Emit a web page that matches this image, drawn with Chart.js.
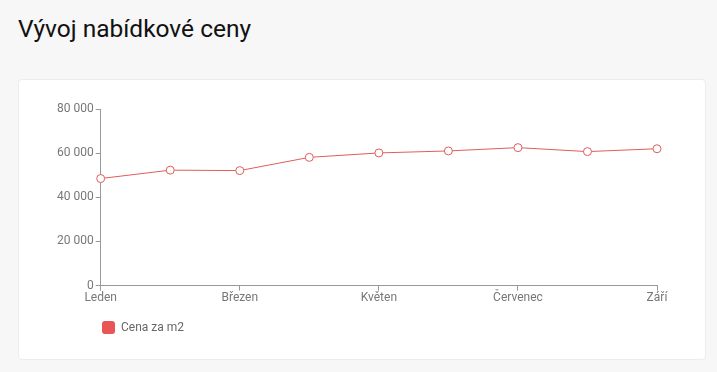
<!DOCTYPE html>
<html>
<head>
<meta charset="utf-8">
<script src="https://cdn.jsdelivr.net/npm/chart.js@4"></script>
<style>
  html, body { margin: 0; padding: 0; background: #f7f7f7; font-family: Roboto, sans-serif; }
  h1 { position: absolute; left: 18px; top: 14px; margin: 0; font-size: 24.5px; font-weight: 400; color: #111; }
  .card { position: absolute; left: 18px; top: 79px; width: 688px; height: 281px; background: #fff; border: 1px solid #ececec; border-radius: 4px; box-sizing: border-box; }
  .card canvas { position: absolute; left: 0; top: 0; }
</style>
</head>
<body>
<h1>Vývoj nabídkové ceny</h1>
<div class="card"><canvas id="c" width="686" height="279"></canvas></div>
<script>
var months = ["Leden", "Únor", "Březen", "Duben", "Květen", "Červen", "Červenec", "Srpen", "Září"];
var prices = [48500, 52300, 52100, 58100, 60100, 61000, 62500, 60700, 62000];
var yTicks = { min: 0, max: 80000, step: 20000 };

var red = "#e05c5c";
var axisColor = "#999";

function fmt(v) {
  return String(v).replace(/\B(?=(\d{3})+(?!\d))/g, " ");
}

// legend sits under the plot area, not at the canvas edge
var legendShift = {
  id: "legendShift",
  afterLayout: function (chart) {
    if (chart.legend) chart.legend.left += 31;
  }
};

new Chart(document.getElementById("c").getContext("2d"), {
  type: "line",
  data: {
    labels: months,
    datasets: [{
      label: "Cena za m2",
      data: prices,
      borderColor: red,
      backgroundColor: "#e85555",
      borderWidth: 1,
      pointRadius: 4,
      pointBackgroundColor: "#fff",
      pointBorderColor: red,
      pointBorderWidth: 1,
      tension: 0
    }]
  },
  plugins: [legendShift],
  options: {
    responsive: false,
    animation: false,
    layout: { padding: { left: 36, right: 48, top: 29, bottom: 15 } },
    plugins: {
      legend: {
        position: "bottom",
        align: "start",
        labels: {
          boxWidth: 13, boxHeight: 13, color: "#666",
          font: { family: "Roboto", size: 12 },
          padding: 16,
          generateLabels: function (chart) {
            var items = Chart.defaults.plugins.legend.labels.generateLabels(chart);
            items.forEach(function (it) { it.fillStyle = "#e85555"; it.strokeStyle = "#e85555"; it.lineWidth = 0; it.borderRadius = 3; });
            return items;
          }
        }
      },
      tooltip: { enabled: false }
    },
    scales: {
      x: {
        grid: { drawOnChartArea: false, drawTicks: true, tickLength: 5, color: axisColor },
        border: { color: axisColor },
        ticks: { color: "#777", font: { family: "Roboto", size: 12 }, maxRotation: 0, autoSkip: true, autoSkipPadding: 60, padding: 0 }
      },
      y: {
        min: yTicks.min, max: yTicks.max,
        grid: { drawOnChartArea: false, drawTicks: true, tickLength: 5, color: axisColor },
        border: { color: axisColor },
        ticks: { stepSize: yTicks.step, color: "#777", font: { family: "Roboto", size: 12 }, padding: 2, callback: function (v) { return fmt(v); } }
      }
    }
  }
});
</script>
</body>
</html>
